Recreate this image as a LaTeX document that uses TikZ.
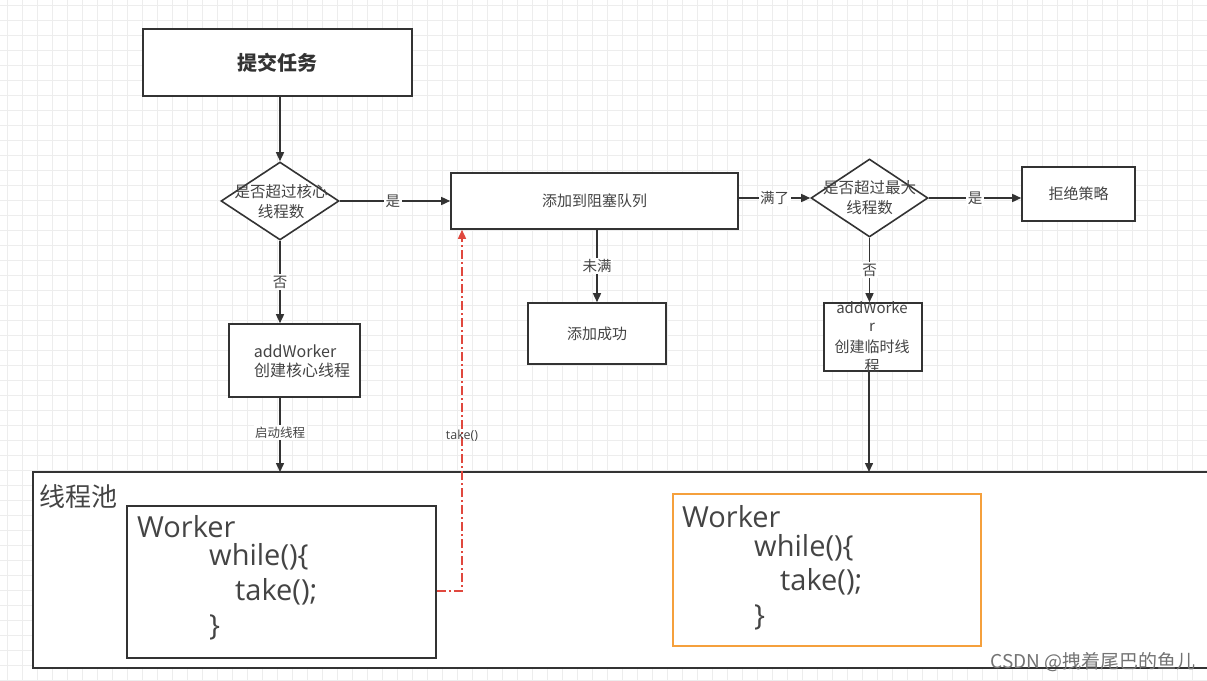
\documentclass[tikz,border=0pt]{standalone}
\usepackage{fontspec}
\setmainfont{Open Sans}
\newfontfamily\cjk{Noto Sans CJK SC}
\usetikzlibrary{shapes.geometric,arrows.meta}
\definecolor{ink}{HTML}{333333}
\definecolor{txt}{HTML}{444444}
\definecolor{gridc}{HTML}{EDEDED}
\definecolor{orangeb}{HTML}{F5A03C}
\definecolor{redl}{HTML}{E0483E}
\tikzset{
  box/.style={draw=ink, line width=1.6pt, fill=white, inner sep=0pt},
  dia/.style={diamond, draw=ink, line width=1.6pt, fill=white, inner sep=0pt},
  arr/.style={draw=ink, line width=1.5pt, -{Triangle[length=9pt,width=8pt]}},
  lbl/.style={fill=white, inner sep=1.5pt, text=txt, font=\cjk\fontsize{14.5}{17}\selectfont},
  tx/.style={text=txt, inner sep=0pt, font=\cjk\fontsize{15}{17}\selectfont},
  wk/.style={text=txt, inner sep=0pt, anchor=west, font=\fontsize{29}{33}\selectfont},
}
\begin{document}
\begin{tikzpicture}[x=1pt,y=-1pt]
\useasboundingbox (0,0) rectangle (1207,680);
\fill[white] (0,0) rectangle (1207,680);
\foreach \x in {7,22,...,1207} \draw[gridc, line width=0.8pt] (\x,0) -- (\x,680);
\foreach \y in {5,20,...,680} \draw[gridc, line width=0.8pt] (0,\y) -- (1207,\y);

% top
\node[box, minimum width=269pt, minimum height=67pt, text=ink,
  font=\cjk\bfseries\fontsize{20}{24}\selectfont] (submit) at (277.5,62.5) {提交任务};

% diamond 1
\node[dia, minimum width=118pt, minimum height=78pt] (d1) at (280,201) {};
\node[tx, font=\cjk\fontsize{15.5}{18}\selectfont] (d1a) at (281,192) {是否超过核心};
\node[tx, font=\cjk\fontsize{15.5}{18}\selectfont] (d1b) at (281,212) {线程数};

% queue box
\node[box, minimum width=287pt, minimum height=56pt] (q) at (594.5,201) {};
\node[tx] (qt) at (q) {添加到阻塞队列};

% core worker
\node[box, minimum width=131pt, minimum height=73pt] (core) at (294.5,360.5) {};
\node[tx, font=\cjk\fontsize{16}{18}\selectfont] (core1) at (295,351) {addWorker};
\node[tx, font=\cjk\fontsize{16}{18}\selectfont] (core2) at (302,370) {创建核心线程};

% add ok
\node[box, minimum width=138pt, minimum height=61pt] (ok) at (597,333.5) {};
\node[tx] (okt) at (ok) {添加成功};

% diamond 2
\node[dia, minimum width=117pt, minimum height=78pt] (d2) at (869.5,198) {};
\node[tx, font=\cjk\fontsize{15.5}{18}\selectfont] (d2a) at (869.5,188) {是否超过最大};
\node[tx, font=\cjk\fontsize{15.5}{18}\selectfont] (d2b) at (869.5,208) {线程数};

% reject
\node[box, minimum width=113pt, minimum height=54pt] (rej) at (1078.5,194) {};
\node[tx] (rejt) at (rej) {拒绝策略};

% temp worker
\node[box, minimum width=98pt, minimum height=68pt] (tmp) at (873,337) {};
\node[tx] (tmp1) at (872,308) {addWorke};
\node[tx] (tmp2) at (872,327) {r};
\node[tx] (tmp3) at (872,347) {创建临时线};
\node[tx] (tmp4) at (872,366) {程};

% pool
\node[box, minimum width=1190pt, minimum height=196pt] (pool) at (628,570) {};
\node[text=txt, inner sep=0pt, anchor=west, font=\cjk\fontsize{26}{30}\selectfont] (poolt) at (39,497) {线程池};

% worker 1
\node[box, minimum width=309pt, minimum height=152pt] (w1) at (281.5,582) {};
\node[wk] (w1a) at (137,527) {Worker};
\node[wk] (w1b) at (209,557) {while()\{};
\node[wk] (w1c) at (235,592) {take();};
\node[wk] (w1d) at (209,627) {\}};

% worker 2
\node[draw=orangeb, line width=1.6pt, fill=white, inner sep=0pt,
  minimum width=308pt, minimum height=152pt] (w2) at (827,570) {};
\node[wk] (w2a) at (682,517) {Worker};
\node[wk] (w2b) at (754,548) {while()\{};
\node[wk] (w2c) at (780,582) {take();};
\node[wk] (w2d) at (754,617) {\}};

% connectors
\coordinate (c1) at (280,472);
\coordinate (c2) at (869,472);
\coordinate (r1) at (462,591);
\draw[arr] (submit.south -| d1.north) -- (d1.north);
\draw[arr] (d1.east) -- (q.west) node[lbl, pos=0.48] {是};
\draw[arr] (d1.south) -- (d1.south |- core.north) node[lbl, midway] {否};
\draw[arr] (core.south -| c1) -- (c1) node[lbl, pos=0.47, font=\cjk\fontsize{12.5}{15}\selectfont] {启动线程};
\draw[arr] (q.south -| ok.north) -- (ok.north) node[lbl, midway] {未满};
\draw[arr] (q.east |- d2.west) -- (d2.west) node[lbl, midway] {满了};
\draw[arr] (d2.east) -- (d2.east -| rej.west) node[lbl, midway] {是};
\draw[arr] (d2.south) -- (d2.south |- tmp.north) node[lbl, midway] {否};
\draw[arr] (tmp.south -| c2) -- (c2);
\draw[draw=redl, line width=1.5pt, dash pattern=on 9pt off 3pt on 2pt off 3pt,
  -{Triangle[length=9pt,width=8pt]}]
  (w1.east |- r1) -- (r1) -- (r1 |- q.south)
  node[lbl, pos=0.43, fill=none, font=\fontsize{12.5}{15}\selectfont] {take()};

% watermark
\node[anchor=east, text=black!55, inner sep=0pt, font=\cjk\fontsize{19}{22}\selectfont] (wm) at (1196,662) {CSDN @拽着尾巴的鱼儿};
\end{tikzpicture}
\end{document}
